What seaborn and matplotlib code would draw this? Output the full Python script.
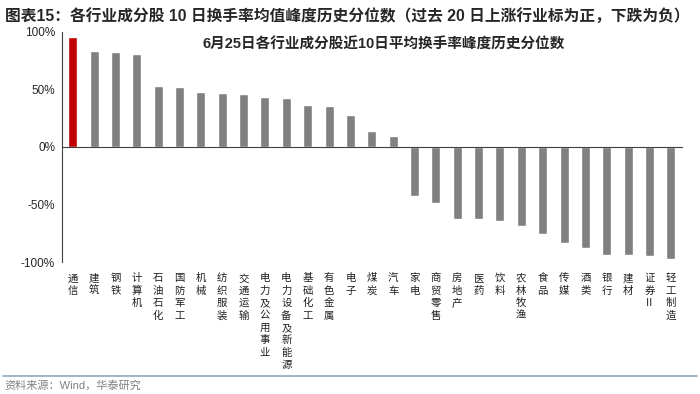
import matplotlib
matplotlib.use("Agg")
import matplotlib.pyplot as plt
import numpy as np
import pandas as pd
import seaborn as sns

# Data (percentile, %)
industries = [
    "通信", "建筑", "钢铁", "计算机", "石油石化", "国防军工", "机械", "纺织服装",
    "交通运输", "电力及公用事业", "电力设备及新能源", "基础化工", "有色金属", "电子",
    "煤炭", "汽车", "家电", "商贸零售", "房地产", "医药", "饮料", "农林牧渔", "食品",
    "传媒", "酒类", "银行", "建材", "证券Ⅱ", "轻工制造",
]
values = [
    95.6, 83.0, 82.6, 80.9, 53.0, 52.5, 48.2, 47.0,
    46.0, 43.8, 42.3, 36.8, 35.4, 28.2,
    13.9, 9.6, -42.6, -48.4, -62.3, -62.3, -64.3, -68.7, -75.3,
    -83.1, -87.5, -93.6, -93.6, -95.0, -97.7,
]
highlight = "通信"

sns.set_style("white")
plt.rcParams["font.family"] = ["Liberation Sans", "Noto Sans CJK SC"]

df = pd.DataFrame({"industry": industries, "value": values})
palette = {name: ("#C00000" if name == highlight else "#808080") for name in industries}

fig = plt.figure(figsize=(7, 3.94), dpi=100)
ax = fig.add_axes([0.0886, 0.335, 0.885, 0.584])

sns.barplot(
    data=df, x="industry", y="value", hue="industry", palette=palette,
    width=0.42, legend=False, ax=ax, saturation=1,
)

ax.set(xlim=(-0.5, len(industries) - 0.5), ylim=(-100, 100))
ax.set_yticks([100, 50, 0, -50, -100])
ax.set_yticklabels(["100%", "50%", "0%", "-50%", "-100%"], fontsize=8.5)
ax.set_xlabel("")
ax.set_ylabel("")

# Zero line as the bottom spine, with ticks between categories
for side in ["top", "right"]:
    ax.spines[side].set_visible(False)
ax.spines["bottom"].set_position(("data", 0))
ax.spines["bottom"].set_color("#404040")
ax.spines["left"].set_color("#404040")
ax.set_xticks(np.arange(len(industries) + 1) - 0.5, minor=True)
ax.tick_params(axis="x", which="minor", length=3, direction="out", color="#404040", width=0.8)
ax.tick_params(axis="x", which="major", length=0, pad=91)
ax.tick_params(axis="y", length=3, direction="out", color="#404040", width=0.8, pad=2)

# Stacked vertical labels
ax.set_xticks(range(len(industries)))
ax.set_xticklabels(["\n".join(name) for name in industries],
                   fontsize=7.5, va="top", linespacing=1.3, color="#202020")

ax.text(0.52, 0.975, "6月25日各行业成分股近10日平均换手率峰度历史分位数",
        transform=ax.transAxes, ha="center", va="top", fontsize=10.5,
        fontweight="bold")

fig.text(0.007, 0.977,
         "图表15：各行业成分股 10 日换手率均值峰度历史分位数（过去 20 日上涨行业标为正，下跌为负）",
         ha="left", va="top", fontsize=11.3, fontweight="bold")

fig.add_artist(plt.Line2D([0.004, 0.996], [0.046, 0.046], color="#8EA9C8",
                          linewidth=1.2, transform=fig.transFigure))
fig.text(0.007, 0.022, "资料来源：Wind，华泰研究", ha="left", va="center",
         fontsize=8, color="#808080")

fig.savefig("out.png", dpi=100)
